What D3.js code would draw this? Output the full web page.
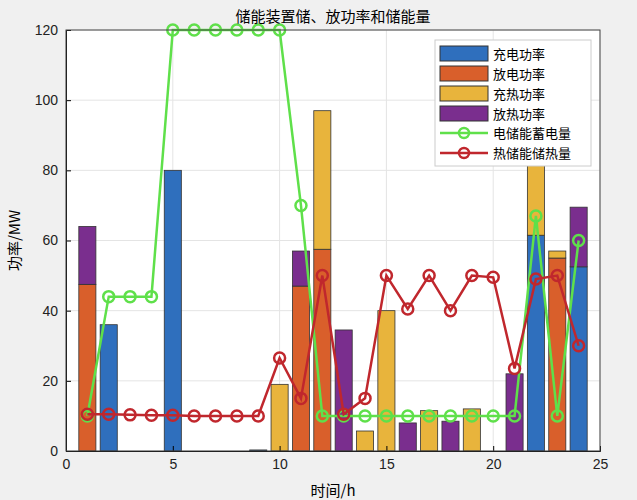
<!DOCTYPE html><html><head><meta charset="utf-8"><script src="https://cdn.jsdelivr.net/npm/d3@7"></script>
<style>body{margin:0;background:#f0f0f0}svg{font-family:"Noto Sans CJK SC",sans-serif}</style></head><body><svg width="637" height="500"></svg><script>
const hours=d3.range(1,25);
const chargeP=[0,36,0,0,80,0,0,0,0.3,0,0,0,0,0,0,0,0,0,0,0,0,61.5,0,52.5];
const dischargeP=[47.5,0,0,0,0,0,0,0,0,0,47,57.5,0,0,0,0,0,0,0,0,0,0,55,0];
const heatChargeP=[0,0,0,0,0,0,0,0,0,19,0,39.5,0,5.7,40,0,11.5,0,12,0,0,29,2,0];
const heatDischargeP=[16.5,0,0,0,0,0,0,0,0,0,10,0,34.5,0,0,8,0,8.5,0,0,22,0,0,17];
const elecStore=[10,44,44,44,120,120,120,120,120,120,70,10,10,10,10,10,10,10,10,10,10,67,10,60];
const heatStore=[10.5,10.5,10.3,10.2,10.2,10,10,10,10,26.5,15,50,10.5,15,50,40.5,50,40,50,49.5,23.5,49,50,30];
const seriesNames=["充电功率","放电功率","充热功率","放热功率"];
const colors=["#2f6fbd","#d95f2b","#e8b43c","#7a2e8e"];
const xTicks=[0,5,10,15,20,25], yTicks=[0,20,40,60,80,100,120];
const svg=d3.select("svg");
const L=66,R=600,T=30,B=451;
const x=d3.scaleLinear().domain([0,25]).range([L,R]);
const y=d3.scaleLinear().domain([0,120]).range([B,T]);
svg.append("rect").attr("x",L).attr("y",T).attr("width",R-L).attr("height",B-T).attr("fill","#fff");
const g=svg.append("g");
g.selectAll(".gx").data(xTicks).join("line").attr("x1",d=>x(d)).attr("x2",d=>x(d)).attr("y1",T).attr("y2",B).attr("stroke","#e4e4e4");
g.selectAll(".gy").data(yTicks).join("line").attr("y1",d=>y(d)).attr("y2",d=>y(d)).attr("x1",L).attr("x2",R).attr("stroke","#e4e4e4");
const data=hours.map((h,i)=>({h,s0:chargeP[i],s1:dischargeP[i],s2:heatChargeP[i],s3:heatDischargeP[i]}));
const stack=d3.stack().keys(["s0","s1","s2","s3"])(data);
const bw=x(0.8)-x(0);
stack.forEach((s,k)=>{g.selectAll(".b"+k).data(s.filter(d=>d[1]-d[0]>0)).join("rect").attr("x",d=>x(d.data.h)-bw/2).attr("width",bw).attr("y",d=>y(d[1])).attr("height",d=>y(d[0])-y(d[1])).attr("fill",colors[k]).attr("stroke","#333").attr("stroke-width",0.8);});
function line(vals,c){const ln=d3.line().x((d,i)=>x(hours[i])).y(d=>y(d));
g.append("path").attr("d",ln(vals)).attr("fill","none").attr("stroke",c).attr("stroke-width",2.5);
g.selectAll(null).data(vals).join("circle").attr("cx",(d,i)=>x(hours[i])).attr("cy",d=>y(d)).attr("r",5.5).attr("fill","none").attr("stroke",c).attr("stroke-width",2.5);}
line(elecStore,"#5fe04a");line(heatStore,"#c0272d");
svg.append("g").attr("transform",`translate(0,${B})`).call(d3.axisBottom(x).tickValues(xTicks).tickSize(-5).tickPadding(8)).call(a=>a.selectAll("text").attr("font-size",14).attr("fill","#222"));
svg.append("g").attr("transform",`translate(${L},0)`).call(d3.axisLeft(y).tickValues(yTicks).tickSize(-5).tickPadding(8)).call(a=>a.selectAll("text").attr("font-size",14).attr("fill","#222"));
svg.append("rect").attr("x",L).attr("y",T).attr("width",R-L).attr("height",B-T).attr("fill","none").attr("stroke","#444");
svg.append("text").attr("x",333).attr("y",22).attr("text-anchor","middle").attr("font-size",15).text("储能装置储、放功率和储能量");
svg.append("text").attr("x",(L+R)/2).attr("y",496).attr("text-anchor","middle").attr("font-size",15).text("时间/h");
svg.append("text").attr("transform",`translate(20,${(T+B)/2}) rotate(-90)`).attr("text-anchor","middle").attr("font-size",15).text("功率/MW");
const lg=svg.append("g").attr("transform","translate(435,40)");
lg.append("rect").attr("width",156).attr("height",126).attr("fill","#fff").attr("stroke","#ccc");
seriesNames.forEach((n,i)=>{lg.append("rect").attr("x",5).attr("y",6+i*20).attr("width",48).attr("height",15).attr("fill",colors[i]).attr("stroke","#333");
lg.append("text").attr("x",58).attr("y",19+i*20).attr("font-size",13).text(n);});
[["电储能蓄电量","#5fe04a"],["热储能储热量","#c0272d"]].forEach(([n,c],j)=>{const yy=93+j*20;
lg.append("line").attr("x1",5).attr("x2",53).attr("y1",yy).attr("y2",yy).attr("stroke",c).attr("stroke-width",2.5);
lg.append("circle").attr("cx",29).attr("cy",yy).attr("r",5).attr("fill","none").attr("stroke",c).attr("stroke-width",2.5);
lg.append("text").attr("x",58).attr("y",yy+5).attr("font-size",13).text(n);});
</script></body></html>
